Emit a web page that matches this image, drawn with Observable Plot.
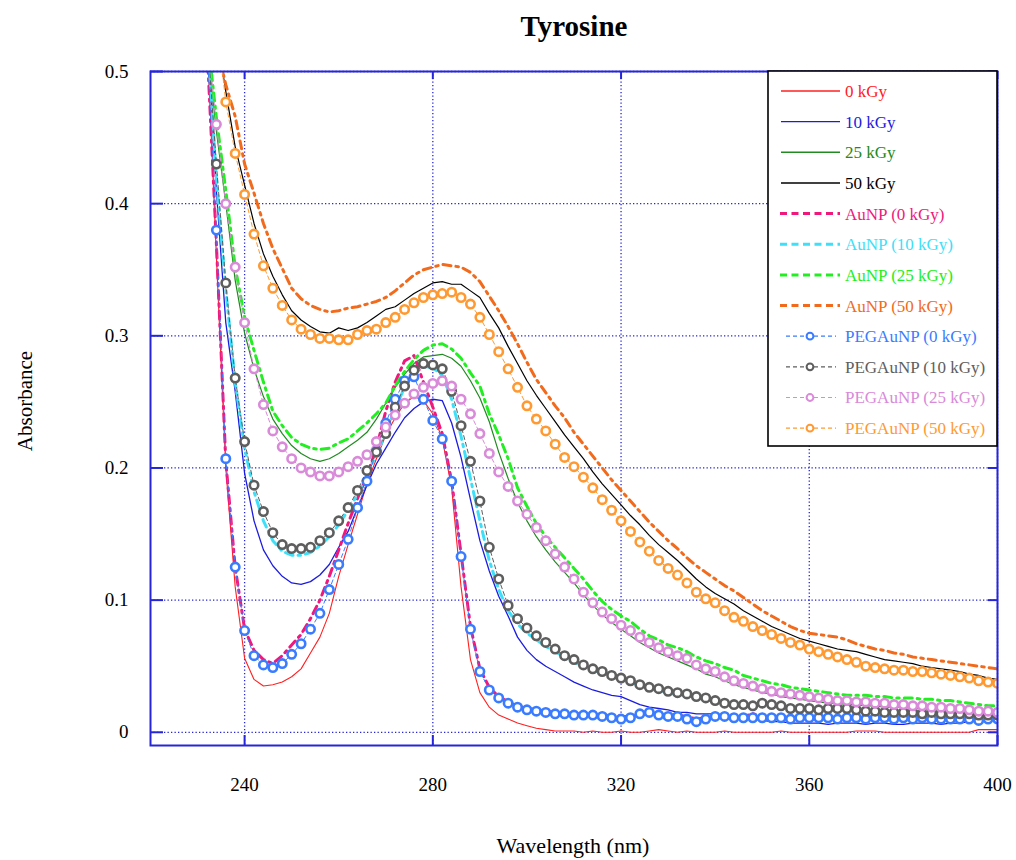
<!DOCTYPE html>
<html><head><meta charset="utf-8">
<script src="https://cdn.jsdelivr.net/npm/d3@7"></script>
<script src="https://cdn.jsdelivr.net/npm/@observablehq/plot@0.6"></script>
<style>body{margin:0;background:#fff}#chart{width:1016px;height:860px}</style>
</head><body><div id="chart"></div><script>
const wavelength = [232,234,236,238,240,242,244,246,248,250,
252,254,256,258,260,262,264,266,268,270,
272,274,276,278,280,282,284,286,288,290,
292,294,296,298,300,302,304,306,308,310,
312,314,316,318,320,322,324,326,328,330,
332,334,336,338,340,342,344,346,348,350,
352,354,356,358,360,362,364,366,368,370,
372,374,376,378,380,382,384,386,388,390,
392,394,396,398,400];

const kGy0 = [0.53,0.36,0.20,0.11,0.056,0.040,0.035,0.036,0.038,0.042,
0.048,0.060,0.072,0.090,0.118,0.142,0.165,0.188,0.207,0.225,
0.238,0.249,0.254,0.251,0.241,0.222,0.185,0.110,0.055,0.030,
0.019,0.013,0.010,0.007,0.005,0.003,0.002,0.001,0.001,0.001,
0.000,0.001,0.000,0.000,0.001,0.000,0.000,0.001,0.002,0.001,
0.000,0.001,0.000,0.000,0.000,0.001,0.000,0.000,0.000,0.000,
0.000,0.001,0.000,0.000,0.000,0.000,0.000,0.000,0.000,0.001,
0.001,0.001,0.000,0.000,0.000,0.000,0.000,0.000,0.000,0.000,
0.000,0.000,0.002,0.002,0.002];

const kGy10 = [0.54,0.41,0.31,0.258,0.196,0.160,0.138,0.126,0.118,0.113,
0.112,0.114,0.119,0.127,0.140,0.152,0.170,0.187,0.203,0.215,
0.227,0.238,0.245,0.250,0.252,0.251,0.234,0.208,0.176,0.145,
0.122,0.103,0.088,0.072,0.062,0.055,0.050,0.046,0.042,0.038,
0.035,0.032,0.030,0.028,0.027,0.024,0.021,0.019,0.018,0.017,
0.015,0.015,0.014,0.014,0.014,0.012,0.011,0.010,0.010,0.009,
0.008,0.008,0.007,0.007,0.007,0.007,0.006,0.007,0.007,0.007,
0.006,0.007,0.007,0.006,0.006,0.007,0.007,0.007,0.006,0.007,
0.007,0.008,0.009,0.010,0.011];

const kGy25 = [0.52,0.455,0.40,0.342,0.302,0.275,0.254,0.237,0.226,0.217,
0.211,0.207,0.205,0.207,0.211,0.216,0.221,0.227,0.237,0.249,
0.261,0.271,0.279,0.284,0.285,0.286,0.283,0.277,0.266,0.253,
0.235,0.212,0.192,0.174,0.160,0.148,0.138,0.129,0.121,0.113,
0.104,0.096,0.089,0.083,0.078,0.073,0.068,0.064,0.060,0.057,
0.054,0.051,0.048,0.044,0.042,0.039,0.036,0.034,0.032,0.030,
0.029,0.027,0.026,0.025,0.024,0.023,0.022,0.022,0.021,0.021,
0.020,0.020,0.019,0.019,0.019,0.018,0.018,0.017,0.017,0.016,
0.016,0.015,0.015,0.014,0.014];

const kGy50 = [0.58,0.53,0.485,0.443,0.414,0.385,0.362,0.345,0.331,0.319,
0.312,0.307,0.303,0.302,0.306,0.304,0.306,0.310,0.315,0.320,
0.322,0.327,0.332,0.336,0.340,0.341,0.339,0.339,0.334,0.329,
0.317,0.306,0.292,0.279,0.266,0.255,0.245,0.235,0.225,0.216,
0.207,0.197,0.188,0.180,0.172,0.164,0.157,0.149,0.142,0.136,
0.130,0.123,0.116,0.110,0.105,0.101,0.097,0.092,0.088,0.084,
0.080,0.077,0.074,0.071,0.069,0.067,0.065,0.063,0.062,0.061,
0.059,0.057,0.055,0.054,0.053,0.052,0.050,0.049,0.048,0.047,
0.046,0.044,0.043,0.041,0.040];

const auNP0 = [0.52,0.37,0.205,0.125,0.078,0.062,0.055,0.052,0.058,0.066,
0.074,0.086,0.100,0.118,0.138,0.158,0.177,0.194,0.215,0.243,
0.265,0.281,0.285,0.265,0.246,0.226,0.190,0.135,0.080,0.048,
0.034,0.027,0.023,0.020,0.018,0.017,0.016,0.015,0.014,0.014,
0.014,0.013,0.013,0.013,0.012,0.012,0.013,0.015,0.014,0.013,
0.013,0.012,0.010,0.011,0.013,0.013,0.012,0.012,0.014,0.012,
0.012,0.011,0.011,0.011,0.012,0.011,0.011,0.011,0.012,0.011,
0.011,0.011,0.010,0.011,0.011,0.010,0.010,0.010,0.011,0.010,
0.010,0.010,0.010,0.011,0.011];

const auNP10 = [0.53,0.42,0.335,0.265,0.215,0.182,0.160,0.145,0.137,0.134,
0.134,0.136,0.141,0.148,0.157,0.168,0.180,0.195,0.210,0.226,
0.245,0.261,0.272,0.277,0.276,0.270,0.252,0.224,0.192,0.160,
0.130,0.108,0.092,0.082,0.075,0.070,0.065,0.061,0.057,0.053,
0.050,0.047,0.045,0.042,0.040,0.038,0.035,0.033,0.032,0.030,
0.029,0.028,0.026,0.025,0.023,0.022,0.021,0.020,0.020,0.020,
0.020,0.019,0.018,0.017,0.017,0.017,0.017,0.017,0.017,0.016,
0.016,0.015,0.015,0.015,0.014,0.014,0.014,0.014,0.014,0.013,
0.013,0.013,0.013,0.012,0.012];

const auNP25 = [0.53,0.465,0.41,0.352,0.314,0.289,0.265,0.243,0.232,0.223,
0.218,0.215,0.214,0.215,0.219,0.222,0.228,0.234,0.241,0.249,
0.262,0.273,0.282,0.289,0.293,0.294,0.290,0.283,0.272,0.262,
0.241,0.225,0.207,0.185,0.171,0.158,0.148,0.140,0.132,0.124,
0.116,0.107,0.099,0.093,0.088,0.084,0.078,0.073,0.070,0.066,
0.064,0.061,0.057,0.054,0.052,0.049,0.047,0.043,0.041,0.039,
0.037,0.036,0.034,0.033,0.032,0.031,0.030,0.029,0.028,0.028,
0.028,0.027,0.027,0.026,0.026,0.026,0.025,0.025,0.024,0.024,
0.023,0.022,0.021,0.020,0.020];

const auNP50 = [0.60,0.52,0.49,0.466,0.430,0.408,0.385,0.366,0.351,0.336,
0.328,0.323,0.320,0.318,0.319,0.321,0.322,0.324,0.326,0.329,
0.334,0.340,0.346,0.350,0.352,0.354,0.353,0.352,0.348,0.341,
0.330,0.319,0.307,0.294,0.280,0.267,0.257,0.247,0.238,0.227,
0.218,0.209,0.200,0.191,0.183,0.175,0.167,0.159,0.152,0.145,
0.139,0.132,0.126,0.121,0.116,0.111,0.107,0.102,0.097,0.092,
0.088,0.084,0.080,0.077,0.075,0.074,0.073,0.072,0.070,0.067,
0.065,0.063,0.062,0.060,0.059,0.057,0.056,0.055,0.054,0.053,
0.052,0.051,0.050,0.049,0.048];

const peg0 = [0.52,0.38,0.207,0.125,0.077,0.058,0.051,0.049,0.052,0.059,
0.067,0.078,0.090,0.108,0.127,0.146,0.170,0.190,0.213,0.234,
0.252,0.266,0.269,0.252,0.236,0.222,0.190,0.133,0.078,0.046,
0.032,0.026,0.022,0.019,0.017,0.016,0.015,0.014,0.014,0.013,
0.013,0.013,0.012,0.011,0.010,0.011,0.014,0.015,0.013,0.012,
0.012,0.010,0.008,0.010,0.012,0.012,0.011,0.011,0.011,0.011,
0.011,0.011,0.010,0.011,0.011,0.011,0.011,0.010,0.011,0.011,
0.010,0.011,0.011,0.010,0.011,0.010,0.011,0.010,0.010,0.010,
0.010,0.010,0.009,0.010,0.010];

const peg10 = [0.53,0.43,0.34,0.268,0.220,0.187,0.167,0.151,0.142,0.139,
0.139,0.140,0.145,0.151,0.160,0.170,0.183,0.198,0.212,0.226,
0.246,0.262,0.274,0.279,0.278,0.275,0.258,0.232,0.205,0.175,
0.140,0.116,0.096,0.086,0.079,0.073,0.068,0.063,0.058,0.055,
0.051,0.048,0.046,0.043,0.041,0.039,0.036,0.034,0.033,0.031,
0.030,0.029,0.027,0.026,0.024,0.022,0.021,0.021,0.020,0.022,
0.021,0.020,0.018,0.018,0.018,0.017,0.018,0.018,0.018,0.017,
0.016,0.016,0.015,0.015,0.015,0.015,0.014,0.015,0.014,0.014,
0.014,0.014,0.013,0.013,0.013];

const peg25 = [0.53,0.46,0.40,0.352,0.310,0.275,0.248,0.228,0.216,0.207,
0.200,0.197,0.194,0.194,0.197,0.201,0.205,0.210,0.220,0.231,
0.240,0.249,0.256,0.261,0.264,0.266,0.262,0.252,0.241,0.226,
0.211,0.197,0.186,0.175,0.165,0.155,0.145,0.135,0.125,0.116,
0.106,0.098,0.091,0.086,0.081,0.077,0.072,0.068,0.064,0.061,
0.058,0.056,0.051,0.048,0.046,0.042,0.039,0.037,0.035,0.033,
0.031,0.030,0.029,0.028,0.027,0.026,0.025,0.024,0.024,0.023,
0.023,0.022,0.022,0.021,0.021,0.020,0.020,0.019,0.019,0.018,
0.018,0.017,0.016,0.016,0.015];

const peg50 = [0.60,0.54,0.477,0.438,0.407,0.377,0.353,0.336,0.323,0.312,
0.305,0.301,0.298,0.298,0.297,0.297,0.301,0.304,0.305,0.310,
0.314,0.320,0.325,0.329,0.331,0.332,0.333,0.329,0.324,0.314,
0.301,0.288,0.275,0.261,0.247,0.237,0.228,0.218,0.208,0.201,
0.193,0.185,0.176,0.168,0.160,0.152,0.144,0.137,0.130,0.124,
0.119,0.113,0.106,0.101,0.098,0.092,0.087,0.084,0.080,0.077,
0.074,0.071,0.068,0.066,0.063,0.061,0.059,0.057,0.055,0.053,
0.050,0.049,0.048,0.047,0.047,0.046,0.046,0.045,0.044,0.043,
0.042,0.041,0.039,0.038,0.037];

const xTicks = [240, 280, 320, 360, 400];
const yTicks = [0, 0.1, 0.2, 0.3, 0.4, 0.5];

const series = [
  {name: "0 kGy", values: kGy0, color: "#ff2020", kind: "solid", width: 1.1},
  {name: "10 kGy", values: kGy10, color: "#1c1ce0", kind: "solid", width: 1.3},
  {name: "25 kGy", values: kGy25, color: "#218a21", kind: "solid", width: 1.2},
  {name: "50 kGy", values: kGy50, color: "#000000", kind: "solid", width: 1.2},
  {name: "AuNP (0 kGy)", values: auNP0, color: "#f0187c", kind: "dash"},
  {name: "AuNP (10 kGy)", values: auNP10, color: "#3de0f8", kind: "dash"},
  {name: "AuNP (25 kGy)", values: auNP25, color: "#22ee22", kind: "dash"},
  {name: "AuNP (50 kGy)", values: auNP50, color: "#f26a1b", kind: "dash"},
  {name: "PEGAuNP (0 kGy)", values: peg0, color: "#3a7cff", kind: "peg"},
  {name: "PEGAuNP (10 kGy)", values: peg10, color: "#5e5e5e", kind: "peg"},
  {name: "PEGAuNP (25 kGy)", values: peg25, color: "#d98ad9", kind: "peg"},
  {name: "PEGAuNP (50 kGy)", values: peg50, color: "#ff9a33", kind: "peg"}
];

const axisBlue = "#2626d8";
const serif = "'Liberation Serif', 'Times New Roman', serif";

const marks = [
  Plot.gridX(xTicks, {stroke: axisBlue, strokeOpacity: 1, strokeWidth: 1.3, strokeDasharray: "1.3,2.2"}),
  Plot.gridY(yTicks, {stroke: axisBlue, strokeOpacity: 1, strokeWidth: 1.3, strokeDasharray: "1.3,2.2"}),
  Plot.tickX(xTicks, {x: d => d, stroke: axisBlue, strokeWidth: 2, insetTop: 664}),
  Plot.tickX(xTicks, {x: d => d, stroke: axisBlue, strokeWidth: 2, insetBottom: 666}),
  Plot.tickY(yTicks, {y: d => d, stroke: axisBlue, strokeWidth: 2, insetRight: 834}),
  Plot.tickY(yTicks, {y: d => d, stroke: axisBlue, strokeWidth: 2, insetLeft: 838}),
  Plot.axisX(xTicks, {tickSize: 0, tickPadding: 32, label: null, tickFormat: d => String(d)}),
  Plot.axisY(yTicks, {tickSize: 0, tickPadding: 22, label: null, tickFormat: d => String(d)})
];

for (const s of series) {
  const y = (d, i) => s.values[i];
  if (s.kind === "solid") {
    marks.push(Plot.line(wavelength, {x: d => d, y, stroke: s.color, strokeWidth: s.width, clip: true}));
  } else if (s.kind === "dash") {
    marks.push(Plot.line(wavelength, {x: d => d, y, stroke: s.color, strokeWidth: 3, strokeDasharray: "8,5,2.5,5", clip: true}));
  } else {
    marks.push(Plot.line(wavelength, {x: d => d, y, stroke: s.color, strokeWidth: 1, strokeDasharray: "4,3", clip: true}));
    marks.push(Plot.dot(wavelength, {x: d => d, y, r: 4.2, stroke: s.color, strokeWidth: 2.6, fill: "#fff", clip: true}));
  }
}
marks.push(Plot.frame({stroke: axisBlue, strokeWidth: 2}));

const plot = Plot.plot({
  width: 1016,
  height: 860,
  marginLeft: 150,
  marginRight: 19,
  marginTop: 71,
  marginBottom: 115,
  x: {domain: [220, 400]},
  y: {domain: [-0.01, 0.5]},
  style: {fontFamily: serif, fontSize: "19px", color: "#000", background: "#fff"},
  marks
});

const svg = d3.select(plot);
svg.append("text").attr("x", 574).attr("y", 36).attr("text-anchor", "middle")
  .attr("font-family", serif).attr("font-weight", "bold").attr("font-size", 29).attr("fill", "#000").text("Tyrosine");
svg.append("text").attr("x", 573).attr("y", 853).attr("text-anchor", "middle")
  .attr("font-family", serif).attr("font-size", 22).attr("fill", "#000").text("Wavelength (nm)");
svg.append("text").attr("transform", "translate(32,401) rotate(-90)").attr("text-anchor", "middle")
  .attr("font-family", serif).attr("font-size", 21).attr("fill", "#000").text("Absorbance");

const lg = svg.append("g");
lg.append("rect").attr("x", 768).attr("y", 71).attr("width", 229).attr("height", 375)
  .attr("fill", "#fff").attr("stroke", "#000").attr("stroke-width", 1.6);
series.forEach((s, k) => {
  const yy = 91 + k * 30.65;
  if (s.kind === "solid") {
    lg.append("line").attr("x1", 781).attr("x2", 840).attr("y1", yy).attr("y2", yy)
      .attr("stroke", s.color).attr("stroke-width", 1.4);
  } else if (s.kind === "dash") {
    lg.append("line").attr("x1", 780).attr("x2", 840).attr("y1", yy).attr("y2", yy)
      .attr("stroke", s.color).attr("stroke-width", 3).attr("stroke-dasharray", "7,4.5");
  } else {
    lg.append("line").attr("x1", 786).attr("x2", 836).attr("y1", yy).attr("y2", yy)
      .attr("stroke", s.color).attr("stroke-width", 1.2).attr("stroke-dasharray", "4,3");
    lg.append("circle").attr("cx", 810).attr("cy", yy).attr("r", 3.4)
      .attr("stroke", s.color).attr("stroke-width", 2).attr("fill", "#fff");
  }
  lg.append("text").attr("x", 845).attr("y", yy).attr("dy", "0.35em").attr("text-anchor", "start")
    .attr("font-family", serif).attr("font-size", 17).attr("fill", s.color).text(s.name);
});

document.getElementById("chart").appendChild(plot);
</script></body></html>
